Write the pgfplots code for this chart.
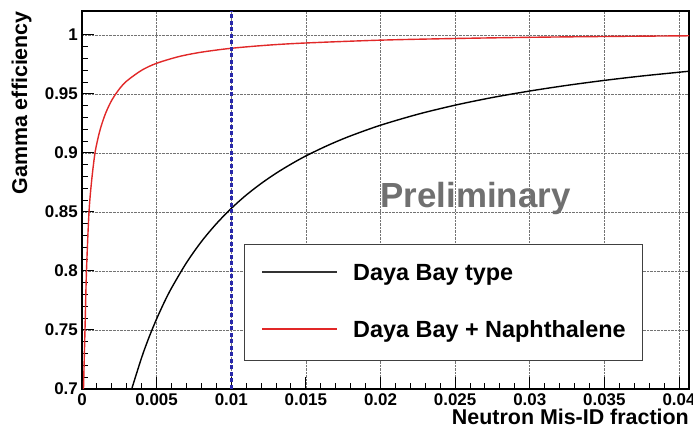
\documentclass[border=0pt]{standalone}
\usepackage{pgfplots}
\pgfplotsset{compat=1.18}
\usepackage{fontspec}
\setmainfont{Liberation Sans}
\definecolor{rootred}{RGB}{225,40,40}
\definecolor{rootblue}{RGB}{40,40,170}
\definecolor{prelim}{RGB}{112,112,112}
\newcommand{\legline}[1]{\textcolor{#1}{\rule[7.6bp]{75bp}{1.1bp}}\hspace{16bp}}

\begin{document}
\begin{tikzpicture}
\useasboundingbox (0,0) rectangle (693bp,437bp);
\begin{axis}[at={(82bp,48bp)}, anchor=south west, width=607bp, height=378bp, scale only axis,
  xmin=0, xmax=0.04067, ymin=0.7, ymax=1.0203,
  scaled x ticks=false, scaled y ticks=false,
  xtick={0,0.005,0.01,0.015,0.02,0.025,0.03,0.035,0.04},
  xticklabels={0,0.005,0.01,0.015,0.02,0.025,0.03,0.035,0.04},
  ytick={0.7,0.75,0.8,0.85,0.9,0.95,1},
  yticklabels={0.7,0.75,0.8,0.85,0.9,0.95,1},
  minor x tick num=4, minor y tick num=4,
  tick align=inside, tick pos=left,
  major tick length=12bp, minor tick length=6bp,
  axis line style={line width=1.2bp}, tick style={line width=1bp, black},
  grid=major, grid style={densely dotted, line width=0.7bp, black!55},
  /pgf/number format/assume math mode=true,
  tick label style={font=\bfseries\fontsize{17}{20}\selectfont, inner sep=0pt},
  xticklabel style={yshift=-4bp}, yticklabel style={xshift=-4bp},
  xlabel={Neutron Mis-ID fraction}, ylabel={Gamma efficiency},
  label style={font=\bfseries\fontsize{21.5}{24}\selectfont, inner sep=0pt},
  xlabel style={at={(axis description cs:1,0)}, anchor=base east, yshift=-36bp},
  ylabel style={at={(axis description cs:-0.0906,1)}, anchor=base east},
  legend style={name=leg, at={(axis description cs:0.2685,0.381)}, anchor=north west, draw=none, fill=white,
    inner xsep=17bp, inner ysep=17bp, row sep=33bp, column sep=0bp,
    font=\bfseries\fontsize{23.5}{28}\selectfont,
    nodes={inner sep=0pt, text height=18bp, text depth=6bp, anchor=west}},
  legend cell align=left,
  legend image code/.code={},
]
% Daya Bay type
\addplot[color=black, line width=1.4bp, smooth] coordinates {
  (0.00333,0.7000) (0.004,0.7268) (0.0045,0.7441) (0.005,0.7594) (0.0055,0.7732)
  (0.006,0.7856) (0.007,0.8070) (0.008,0.8249) (0.009,0.8400) (0.01,0.8530)
  (0.011,0.8643) (0.012,0.8741) (0.013,0.8828) (0.014,0.8905) (0.015,0.8975)
  (0.0165,0.9066) (0.018,0.9145) (0.02,0.9235) (0.0225,0.9328) (0.025,0.9405)
  (0.0275,0.9470) (0.03,0.9525) (0.0325,0.9573) (0.035,0.9615) (0.0375,0.9652)
  (0.04,0.9684) (0.0407,0.9693)};
\addlegendentry{\legline{black!80}Daya Bay type}
% Daya Bay + Naphthalene
\addplot[color=rootred, line width=1.4bp, smooth] coordinates {
  (0.0001,0.700) (0.0002,0.750) (0.0003,0.800) (0.00047,0.850) (0.00065,0.877)
  (0.00087,0.9000) (0.0011,0.9140) (0.0013,0.9234) (0.0016,0.9342) (0.002,0.9448)
  (0.0025,0.9542) (0.003,0.9610) (0.004,0.9701) (0.005,0.9760) (0.0065,0.9817)
  (0.008,0.9854) (0.01,0.9887) (0.0125,0.9914) (0.015,0.9932) (0.02,0.9956)
  (0.025,0.9970) (0.03,0.9980) (0.035,0.9987) (0.0407,0.9993)};
\addlegendentry{\legline{rootred}Daya Bay + Naphthalene\hspace{24bp}}
% cut at 0.01
\addplot[color=rootblue, line width=2.6bp, dash pattern=on 4bp off 2.5bp, forget plot] coordinates {(0.01,0.7) (0.01,1.0203)};
\node[anchor=base west, text=prelim, font=\bfseries\fontsize{35}{40}\selectfont, inner sep=0pt] at (axis cs:0.0200,0.8534) {Preliminary};
\end{axis}
\draw[black!75, line width=1bp] (leg.south west) rectangle (leg.north east);
\end{tikzpicture}
\end{document}
